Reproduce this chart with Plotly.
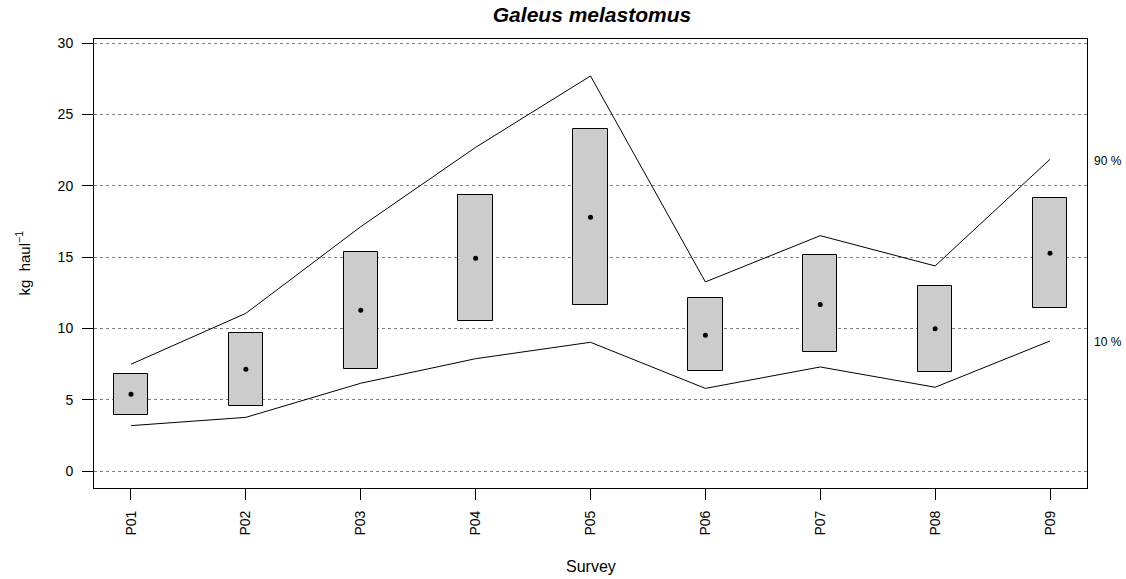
import plotly.graph_objects as go

surveys = ["P01", "P02", "P03", "P04", "P05", "P06", "P07", "P08", "P09"]
box_low = [3.97, 4.58, 7.19, 10.56, 11.65, 7.03, 8.34, 6.96, 11.46]
box_high = [6.80, 9.71, 15.37, 19.34, 23.99, 12.17, 15.16, 12.99, 19.13]
means = [5.40, 7.15, 11.28, 14.93, 17.80, 9.53, 11.68, 9.99, 15.28]
upper90 = [7.50, 11.07, 17.14, 22.70, 27.70, 13.27, 16.51, 14.39, 21.86]
lower10 = [3.20, 3.78, 6.17, 7.89, 9.04, 5.81, 7.31, 5.89, 9.13]
yticks = [0, 5, 10, 15, 20, 25, 30]

xpos = list(range(1, len(surveys) + 1))
FONT = "Liberation Sans, Arial, sans-serif"

fig = go.Figure()
fig.add_trace(go.Bar(
    x=xpos, y=[h - l for h, l in zip(box_high, box_low)], base=box_low,
    width=0.3, marker=dict(color="#CCCCCC", line=dict(color="black", width=1)),
    showlegend=False, hoverinfo="skip"))
fig.add_trace(go.Scatter(x=xpos, y=upper90, mode="lines",
                         line=dict(color="black", width=1), showlegend=False))
fig.add_trace(go.Scatter(x=xpos, y=lower10, mode="lines",
                         line=dict(color="black", width=1), showlegend=False))
fig.add_trace(go.Scatter(x=xpos, y=means, mode="markers",
                         marker=dict(color="black", size=5), showlegend=False))

fig.add_annotation(x=1.005, xref="paper", y=upper90[-1], yref="y", yshift=-2, text="90 %",
                   showarrow=False, xanchor="left", font=dict(size=12, color="#000000", family=FONT))
fig.add_annotation(x=1.005, xref="paper", y=lower10[-1], yref="y", yshift=-1, text="10 %",
                   showarrow=False, xanchor="left", font=dict(size=12, color="#000000", family=FONT))

fig.add_annotation(x=(23 - 94) / 993, xref="paper", y=0.5, yref="paper",
                   text="kg  haul<sup>−1</sup>", xanchor="center", yanchor="middle",
                   showarrow=False, textangle=-90, font=dict(size=15, color="#000000", family=FONT))
fig.add_annotation(x=0.5, xref="paper", y=-(566 - 488) / 449, yref="paper", text="Survey",
                   showarrow=False, yanchor="middle", font=dict(size=16, color="#000000", family=FONT))

fig.update_layout(
    width=1126, height=579,
    margin=dict(l=94, r=39, t=39, b=91),
    plot_bgcolor="white", paper_bgcolor="white",
    font=dict(family=FONT, color="#000000", size=14),
    title=dict(text="<b><i>Galeus melastomus</i></b>", x=592 / 1126, xanchor="center",
               y=1 - 15 / 579, yanchor="middle", yref="container",
               font=dict(size=21, color="#000000", family=FONT)),
    bargap=0,
)
fig.update_xaxes(range=[0.678, 9.322], tickvals=xpos, ticktext=surveys, tickangle=-90,
                 ticks="outside", ticklen=11, tickcolor="black", tickwidth=1,
                 showline=True, linecolor="black", linewidth=1, mirror=True,
                 showgrid=False, zeroline=False, tickfont=dict(size=14),
                 ticklabelstandoff=5)
fig.update_yaxes(range=[-1.17, 30.29], tickvals=yticks,
                 ticks="outside", ticklen=11, tickcolor="black", tickwidth=1,
                 showline=True, linecolor="black", linewidth=1, mirror=True,
                 showgrid=True, gridcolor="#808080", griddash="dot", gridwidth=1,
                 zeroline=False, tickfont=dict(size=14), ticklabelstandoff=6)

fig.write_html("out.html")
